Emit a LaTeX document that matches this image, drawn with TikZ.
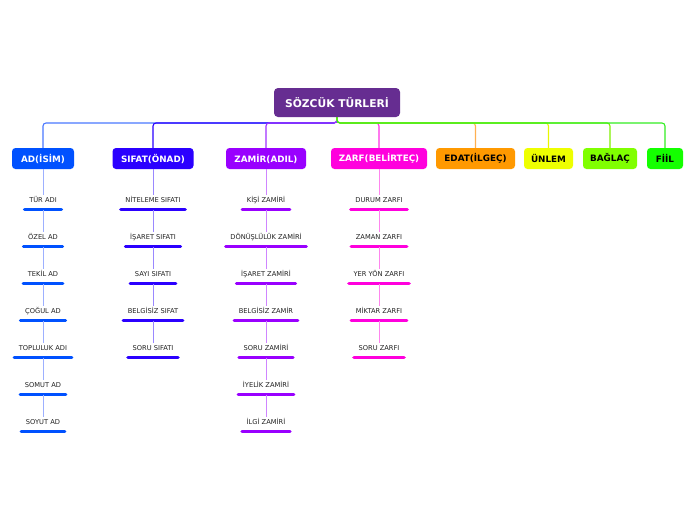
\documentclass[tikz,border=0pt]{standalone}
\usepackage{fontspec}
\setmainfont{DejaVu Sans}
\usetikzlibrary{calc}
\pgfdeclarelayer{background}
\pgfsetlayers{background,main}
\definecolor{rootc}{HTML}{662D91}
\definecolor{adc}{HTML}{0051FF}
\definecolor{adl}{HTML}{4A78FF}
\definecolor{adv}{HTML}{9DB0FF}
\definecolor{sic}{HTML}{2B00FF}
\definecolor{sil}{HTML}{2B00FF}
\definecolor{siv}{HTML}{9A88FF}
\definecolor{zac}{HTML}{9900FF}
\definecolor{zal}{HTML}{A030FF}
\definecolor{zav}{HTML}{CF85FF}
\definecolor{zrc}{HTML}{FF00DD}
\definecolor{zrl}{HTML}{FF30E6}
\definecolor{zrv}{HTML}{FF85EE}
\definecolor{edc}{HTML}{FF9900}
\definecolor{edl}{HTML}{FFB050}
\definecolor{unc}{HTML}{EEFF00}
\definecolor{unl}{HTML}{E8F800}
\definecolor{bac}{HTML}{80FF00}
\definecolor{bal}{HTML}{80F000}
\definecolor{fic}{HTML}{14FF00}
\definecolor{fil}{HTML}{33EE22}
\definecolor{leaftext}{HTML}{222222}
\tikzset{
  rootbox/.style={fill=rootc, rounded corners=4pt, minimum width=126pt, minimum height=29pt,
    inner sep=0pt, text=white, font=\bfseries\fontsize{10.7}{12}\selectfont},
  childbox/.style={rounded corners=3.5pt, minimum height=21pt, inner sep=0pt,
    font=\bfseries\fontsize{8.8}{10}\selectfont},
  leaf/.style={inner xsep=0pt, inner ysep=1.5pt, text height=5pt, text depth=1pt,
    text=leaftext, font=\fontsize{6.7}{7}\selectfont},
  conn/.style={line width=1.1pt, rounded corners=3pt},
  leafline/.style={line width=0.8pt},
  leafbar/.style={line width=3.3pt, line cap=round},
}
\begin{document}
\begin{tikzpicture}[x=1pt,y=-1pt]
\useasboundingbox (0,0) rectangle (696,520);
\begin{pgfonlayer}{background}
\fill[white] (0,0) rectangle (696,520);
\end{pgfonlayer}
% main nodes
\node[rootbox] (root) at (337,102.5) {SÖZCÜK TÜRLERİ};
\coordinate (hub) at (337,123);
\node[childbox, fill=adc, text=white, minimum width=62pt] (ad) at (43,158.5) {AD(İSİM)};
\node[childbox, fill=sic, text=white, minimum width=81pt] (si) at (153,158.5) {SIFAT(ÖNAD)};
\node[childbox, fill=zac, text=white, minimum width=80pt] (za) at (266,158.5) {ZAMİR(ADIL)};
\node[childbox, fill=zrc, text=white, minimum width=96pt] (zr) at (379,158.5) {ZARF(BELİRTEÇ)};
\node[childbox, fill=edc, text=black, minimum width=79pt] (ed) at (475.5,158.5) {EDAT(İLGEÇ)};
\node[childbox, fill=unc, text=black, minimum width=49pt] (un) at (548.5,158.5) {ÜNLEM};
\node[childbox, fill=bac, text=black, minimum width=54pt] (ba) at (610,158.5) {BAĞLAÇ};
\node[childbox, fill=fic, text=black, minimum width=36pt] (fi) at (665,158.5) {FİİL};
% connectors root -> children (behind the boxes)
\begin{pgfonlayer}{background}
\foreach \n/\c in {ad/adl, si/sil, za/zal, zr/zrl, ed/edl, un/unl, ba/bal, fi/fil}{
  \draw[conn, \c] (root.south) -- (hub) -| (\n.north);
}
\end{pgfonlayer}
% leaves
\foreach \p/\x/\bc/\vc/\list in {
  ad/43/adc/adv/{TÜR ADI,ÖZEL AD,TEKİL AD,ÇOĞUL AD,TOPLULUK ADI,SOMUT AD,SOYUT AD},
  si/153/sic/siv/{NİTELEME SIFATI,İŞARET SIFATI,SAYI SIFATI,BELGİSİZ SIFAT,SORU SIFATI},
  za/266/zac/zav/{KİŞİ ZAMİRİ,DÖNÜŞLÜLÜK ZAMİRİ,İŞARET ZAMİRİ,BELGİSİZ ZAMİR,SORU ZAMİRİ,İYELİK ZAMİRİ,İLGİ ZAMİRİ},
  zr/379/zrc/zrv/{DURUM ZARFI,ZAMAN ZARFI,YER YÖN ZARFI,MİKTAR ZARFI,SORU ZARFI}}{
  \foreach \t [count=\i] in \list {
    \node[leaf] (\p\i) at (\x,{200+37*(\i-1)}) {\t};
    \coordinate (\p b\i) at ($(\p\i.south)+(0,5)$);
    \ifnum\i=1
      \draw[leafline, \vc] (\p.south) -- (\p\i.north);
    \else
      \pgfmathtruncatemacro{\j}{\i-1}
      \draw[leafline, \vc] (\p b\j) -- (\p\i.north);
    \fi
    \draw[leafbar, \bc] ($(\p\i.south west)+(-4.5,5)$) -- ($(\p\i.south east)+(4.5,5)$);
  }
}
\end{tikzpicture}
\end{document}
